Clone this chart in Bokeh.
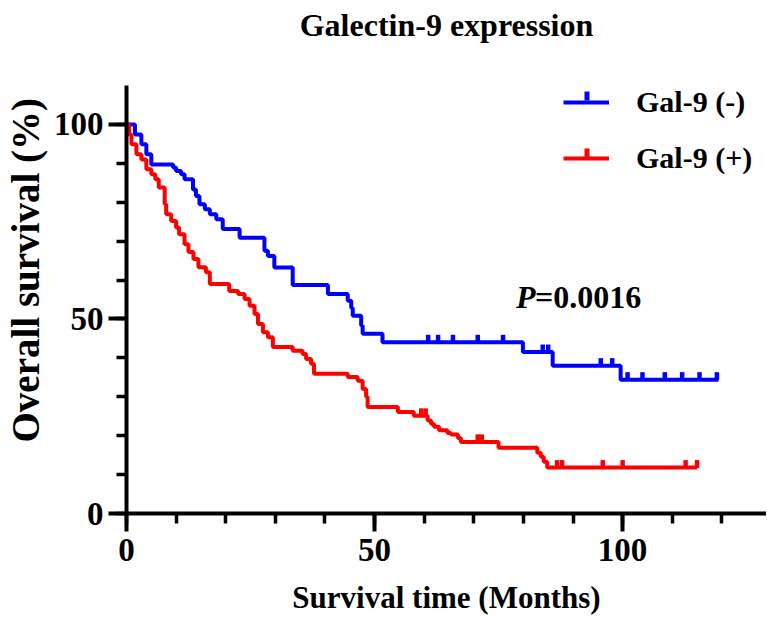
import numpy as np
from bokeh.plotting import figure
from bokeh.models import Range1d, FixedTicker, Legend, LegendItem, Label, BoxAnnotation, Title
from bokeh.embed import file_html
from bokeh.resources import INLINE

# ---------------- data ----------------
title_text = "Galectin-9 expression"
x_label = "Survival time (Months)"
y_label = "Overall survival (%)"
x_major_ticks = [0, 50, 100]
x_minor_ticks = [0, 10, 20, 30, 40, 50, 60, 70, 80, 90, 100, 110, 120]
y_major_ticks = [0, 50, 100]
y_minor_ticks = [0, 10, 20, 30, 40, 50, 60, 70, 80, 90, 100]
series_names = ["Gal-9 (-)", "Gal-9 (+)"]
p_label = "P"
p_value = "=0.0016"

# Gal-9 (-): step times and survival (%) from that time on
neg_times = [0, 1.7, 3.0, 4.0, 5.0, 9.4, 10.0, 11.0, 11.7, 13.4, 14.0, 14.7, 15.8,
             16.8, 18.1, 19.4, 22.8, 27.8, 28.5, 29.8, 33.5, 40.6, 44.6, 45.3,
             45.6, 47.3, 47.6, 51.6, 79.9, 85.9, 99.6]
neg_surv = [100, 97.4, 94.9, 92.3, 89.7, 88.9, 88.0, 87.2, 85.9, 83.3, 81.6, 79.5, 78.2,
            76.9, 75.6, 73.1, 70.9, 67.5, 66.2, 63.2, 58.7, 56.4, 54.7, 52.8,
            50.8, 48.3, 46.2, 44.0, 41.5, 38.0, 34.4]
neg_end = 119.3
neg_censor = [60.8, 62.8, 65.8, 70.8, 75.9, 83.9, 85.0, 95.6, 97.9, 101.0,
              104.0, 108.5, 112.0, 115.5, 119.0]

# Gal-9 (+)
pos_times = [0, 0.5, 1.0, 2.0, 3.0, 4.0, 5.0, 5.8, 6.5, 7.7, 8.0, 9.0, 10.0, 10.6,
             11.7, 12.5, 13.5, 14.5, 16.0, 16.8, 20.7, 22.5, 23.8, 24.8, 25.8,
             26.5, 27.5, 28.5, 29.5, 33.5, 35.5, 36.2, 37.2, 37.8, 44.6, 46.6,
             47.6, 48.3, 48.6, 54.7, 57.9, 60.7, 61.4, 62.0, 63.0, 64.7, 65.4,
             66.8, 67.4, 75.0, 82.8, 83.5, 84.1, 84.8]
pos_surv = [100, 97.4, 94.9, 92.3, 91.0, 88.5, 87.2, 85.9, 83.8, 79.5, 76.9, 75.2, 73.5, 71.8,
            69.2, 67.2, 65.4, 63.3, 62.0, 59.0, 57.2, 56.4, 55.1, 53.4, 51.3,
            48.7, 46.6, 45.3, 42.8, 41.8, 41.0, 39.7, 38.5, 35.9, 35.1, 34.1,
            32.0, 30.0, 27.4, 26.1, 25.1, 23.9, 23.0, 22.3, 21.4, 20.7, 20.3,
            19.4, 18.4, 16.9, 15.6, 14.6, 13.3, 11.8]
pos_end = 115.0
pos_censor = [59.4, 60.3, 70.8, 71.6, 86.8, 87.8, 96.0, 100.0, 112.7, 115.0]

neg_color = "#0000FF"
pos_color = "#FF0000"

SERIF = "Liberation Serif"

# ---------------- figure ----------------
p = figure(width=766, height=617, x_range=Range1d(0, 129), y_range=Range1d(0, 110),
           output_backend="svg", toolbar_location=None,
           min_border_left=124, min_border_right=0, min_border_top=85,
           min_border_bottom=103)
p.title = None
p.outline_line_color = None
p.xgrid.visible = False
p.ygrid.visible = False
p.background_fill_color = "white"
p.border_fill_color = "white"

# spacer (nearest to the frame) then the real title above it
p.add_layout(Title(text=" ", text_font_size="4px", standoff=36), "above")
p.add_layout(Title(text=title_text, align="center", text_font=SERIF,
                   text_font_style="bold", text_font_size="32px",
                   text_color="black", standoff=0), "above")


def km(times, surv, end, censor):
    xs = list(times) + [end]
    ys = list(surv) + [surv[-1]]
    idx = np.searchsorted(np.array(times), np.array(censor), side="right") - 1
    cy = np.array(surv)[idx]
    return xs, ys, np.array(censor), cy


lines = []
for times, surv, end, censor, color in [
        (neg_times, neg_surv, neg_end, neg_censor, neg_color),
        (pos_times, pos_surv, pos_end, pos_censor, pos_color)]:
    xs, ys, cx, cy = km(times, surv, end, censor)
    ln = p.step(xs, ys, mode="after", line_width=4, line_color=color)
    p.scatter(cx, cy + 0.9, marker="dash", angle=np.pi / 2, size=8,
              line_width=4.5, line_color=color)
    lines.append(ln)

# axes
for ax in (p.xaxis[0], p.yaxis[0]):
    ax.axis_line_width = 4
    ax.major_tick_line_width = 4
    ax.minor_tick_line_width = 3.5
    ax.major_tick_in = 0
    ax.major_tick_out = 18
    ax.minor_tick_in = 0
    ax.minor_tick_out = 10
    ax.major_label_text_font = SERIF
    ax.major_label_text_font_style = "bold"
    ax.major_label_text_font_size = "33px"
    ax.major_label_text_color = "black"
    ax.axis_label_text_font = SERIF
    ax.axis_label_text_font_style = "bold"
    ax.axis_label_text_color = "black"

p.xaxis.axis_label_text_font_size = "31px"
p.yaxis.axis_label_text_font_size = "39px"
p.xaxis.ticker = FixedTicker(ticks=x_major_ticks, minor_ticks=x_minor_ticks)
p.yaxis.ticker = FixedTicker(ticks=y_major_ticks, minor_ticks=y_minor_ticks)
p.xaxis.axis_label = x_label
# leading no-break spaces lift the (frame-centred) label to where the reference has it
p.yaxis.axis_label = "\u00a0" * 6 + y_label
p.xaxis.major_label_standoff = 7
p.yaxis.major_label_standoff = 5
p.xaxis.axis_label_standoff = 16
p.yaxis.axis_label_standoff = 4

# p value
p.add_layout(Label(x=78.5, y=55.6, text=p_label, text_baseline="middle",
                   text_font=SERIF, text_font_style="bold italic",
                   text_font_size="32px", text_color="black"))
p.add_layout(Label(x=78.5, y=55.6, x_offset=19, text=p_value, text_baseline="middle",
                   text_font=SERIF, text_font_style="bold",
                   text_font_size="32px", text_color="black"))

legend = Legend(items=[LegendItem(label=series_names[0], renderers=[lines[0]]),
                       LegendItem(label=series_names[1], renderers=[lines[1]])],
                location=(437, 338))
legend.border_line_color = None
legend.background_fill_alpha = 0
legend.label_text_font = SERIF
legend.label_text_font_style = "bold"
legend.label_text_font_size = "30px"
legend.label_text_color = "black"
legend.glyph_width = 46
legend.glyph_height = 30
legend.label_height = 30
legend.spacing = 22
legend.padding = 0
legend.margin = 0
legend.label_standoff = 27
p.add_layout(legend)

# censor ticks in the legend samples
for color, base in [(neg_color, 413), (pos_color, 356)]:
    p.add_layout(BoxAnnotation(left=458, right=463, bottom=base, top=base + 9,
                               left_units="screen", right_units="screen",
                               bottom_units="screen", top_units="screen",
                               fill_color=color, fill_alpha=1.0, line_alpha=0,
                               level="overlay"))

open("out.html", "w").write(file_html(p, INLINE))
